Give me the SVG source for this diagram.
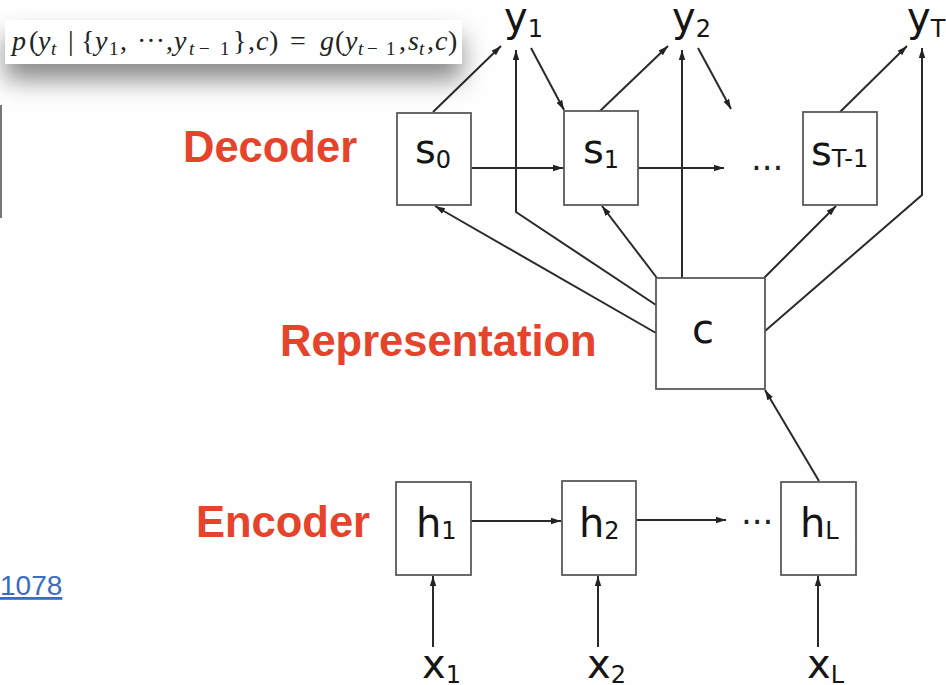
<svg xmlns="http://www.w3.org/2000/svg" width="946" height="685" viewBox="0 0 946 685">
<defs>
<filter id="shadow" x="-10%" y="-60%" width="120%" height="280%">
<feDropShadow dx="0" dy="16" stdDeviation="12" flood-color="#000" flood-opacity="0.45"/>
</filter>
<marker id="arr" markerUnits="userSpaceOnUse" markerWidth="11" markerHeight="8" refX="10" refY="4" orient="auto">
<path d="M0,0.8 L10,4 L0,7.2 z" fill="#222"/>
</marker>
</defs>
<style>
.box{fill:#fff;stroke:#5a5a5a;stroke-width:1.8}
.lbl{font-family:"DejaVu Sans",sans-serif;font-size:40px;fill:#151515}
.sub{font-size:24px}
.red{font-family:"Liberation Sans",Arial,sans-serif;font-weight:bold;font-size:43.5px;fill:#e6432b}
.ln{fill:none;stroke:#2a2a2a;stroke-width:2;marker-end:url(#arr)}
.fm{font-family:"Liberation Serif","Times New Roman",serif;font-size:28px;fill:#222}
.fi{font-style:italic}
.fs{font-size:19px}
.dots{font-family:"DejaVu Sans",sans-serif;font-size:34px;fill:#222}
</style>
<rect width="946" height="685" fill="#fefefe"/>

<g id="left-edge">
<line x1="1" y1="105" x2="1" y2="218" stroke="#777" stroke-width="2"/>
<text x="0" y="595" font-family="Liberation Sans, Arial, sans-serif" font-size="28" fill="#3a6cc2" text-decoration="underline">1078</text>
</g>

<g id="formula">
<rect x="5" y="20" width="457" height="44" fill="#fff" filter="url(#shadow)"/>
<text class="fm"><tspan class="fi" x="12" y="50">p</tspan><tspan x="29" y="50">(</tspan><tspan class="fi" x="38" y="50">y</tspan><tspan class="fi fs" x="51" y="55">t</tspan><tspan x="68" y="50">|</tspan><tspan x="81" y="50">{</tspan><tspan class="fi" x="95" y="50">y</tspan><tspan class="fs" x="109" y="55">1</tspan><tspan x="120" y="50">,</tspan><tspan x="137" y="50">···</tspan><tspan x="166" y="50">,</tspan><tspan class="fi" x="174" y="50">y</tspan><tspan class="fi fs" x="189" y="55">t</tspan><tspan class="fs" x="199" y="55">−</tspan><tspan class="fs" x="220" y="55">1</tspan><tspan x="233" y="50">}</tspan><tspan x="248" y="50">,</tspan><tspan class="fi" x="256" y="50">c</tspan><tspan x="269" y="50">)</tspan><tspan x="290" y="50">=</tspan><tspan class="fi" x="320" y="50">g</tspan><tspan x="335" y="50">(</tspan><tspan class="fi" x="345" y="50">y</tspan><tspan class="fi fs" x="358" y="55">t</tspan><tspan class="fs" x="367" y="55">−</tspan><tspan class="fs" x="386" y="55">1</tspan><tspan x="399" y="50">,</tspan><tspan class="fi" x="408" y="50">s</tspan><tspan class="fi fs" x="419" y="55">t</tspan><tspan x="427" y="50">,</tspan><tspan class="fi" x="435" y="50">c</tspan><tspan x="448" y="50">)</tspan></text>
</g>

<g id="label-decoder"><text class="red" x="183" y="162">Decoder</text></g>
<g id="label-representation"><text class="red" x="280" y="356">Representation</text></g>
<g id="label-encoder"><text class="red" x="196" y="537">Encoder</text></g>

<g id="connectors">
<line class="ln" x1="433" y1="112" x2="501" y2="46"/>
<line class="ln" x1="531" y1="48" x2="564" y2="110"/>
<line class="ln" x1="600" y1="111" x2="668" y2="46"/>
<line class="ln" x1="698" y1="48" x2="731" y2="109"/>
<line class="ln" x1="840" y1="112" x2="907" y2="46"/>
<line class="ln" x1="472" y1="168" x2="563" y2="168"/>
<line class="ln" x1="638" y1="168" x2="724" y2="168"/>
<line class="ln" x1="656" y1="333" x2="435" y2="206"/>
<polyline class="ln" points="656,305 516,212 516,50"/>
<line class="ln" x1="657" y1="278" x2="602" y2="206"/>
<line class="ln" x1="682" y1="278" x2="682" y2="50"/>
<line class="ln" x1="764" y1="278" x2="836" y2="206"/>
<polyline class="ln" points="765,331 922,195 922,48"/>
<line class="ln" x1="819" y1="481" x2="765" y2="390"/>
<line class="ln" x1="471" y1="521" x2="561" y2="521"/>
<line class="ln" x1="636" y1="520" x2="726" y2="520"/>
<line class="ln" x1="433" y1="647" x2="433" y2="576"/>
<line class="ln" x1="598" y1="647" x2="598" y2="576"/>
<line class="ln" x1="818" y1="647" x2="818" y2="576"/>
</g>

<g id="y1"><text class="lbl" x="504" y="31">y<tspan class="sub" font-size="22" dy="6">1</tspan></text></g>
<g id="y2"><text class="lbl" x="672" y="31">y<tspan class="sub" font-size="22" dy="6">2</tspan></text></g>
<g id="yT"><text class="lbl" x="907" y="31">y<tspan class="sub" font-size="20" dy="6">T</tspan></text></g>

<g id="s0"><rect class="box" x="397" y="113" width="74" height="92"/><text class="lbl" x="415" y="163">s<tspan class="sub" dy="5">0</tspan></text></g>
<g id="s1"><rect class="box" x="564" y="111" width="74" height="94"/><text class="lbl" x="583" y="163">s<tspan class="sub" dy="5">1</tspan></text></g>
<g id="dec-dots"><text class="dots" x="751" y="170">...</text></g>
<g id="sT-1"><rect class="box" x="803" y="112" width="74" height="93"/><text class="lbl" x="811" y="165">s<tspan class="sub" font-size="23" dy="2">T-1</tspan></text></g>

<g id="c"><rect class="box" x="656" y="278" width="109" height="111"/><text class="lbl" x="692" y="343" font-size="50">c</text></g>

<g id="h1"><rect class="box" x="396" y="482" width="75" height="93"/><text class="lbl" x="416" y="537">h<tspan class="sub" dy="2">1</tspan></text></g>
<g id="h2"><rect class="box" x="562" y="481" width="74" height="94"/><text class="lbl" x="579" y="537">h<tspan class="sub" dy="2">2</tspan></text></g>
<g id="enc-dots"><text class="dots" x="741" y="524">...</text></g>
<g id="hL"><rect class="box" x="781" y="482" width="75" height="93"/><text class="lbl" x="800" y="537">h<tspan class="sub" dy="2">L</tspan></text></g>

<g id="x1"><text class="lbl" x="422" y="678">x<tspan class="sub" dy="5">1</tspan></text></g>
<g id="x2"><text class="lbl" x="587" y="678">x<tspan class="sub" dy="5">2</tspan></text></g>
<g id="xL"><text class="lbl" x="807" y="678">x<tspan class="sub" dy="5">L</tspan></text></g>
</svg>
